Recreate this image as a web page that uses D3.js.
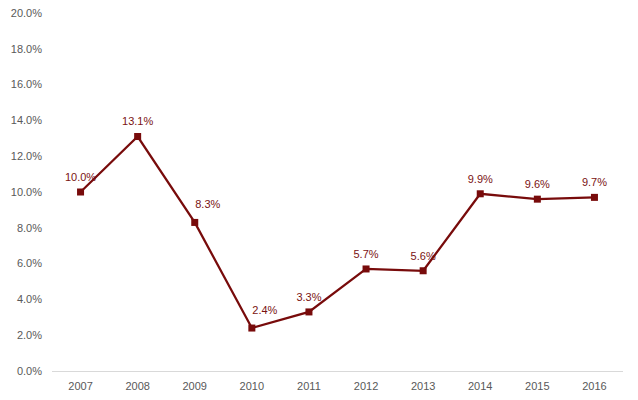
<!DOCTYPE html>
<html><head><meta charset="utf-8">
<script src="https://cdn.jsdelivr.net/npm/d3@7"></script>
<style>body{margin:0;background:#fff;} text{font-family:"Liberation Sans",Arial,sans-serif;}</style>
</head><body>
<svg id="c" width="638" height="400"></svg>
<script>
const years = ["2007","2008","2009","2010","2011","2012","2013","2014","2015","2016"];
const values = [10.0, 13.1, 8.3, 2.4, 3.3, 5.7, 5.6, 9.9, 9.6, 9.7];
const yTicks = [0,2,4,6,8,10,12,14,16,18,20];
// label placement: "above" or "right" (above-right)
const labelPos = ["above","above","right","right","above","above","above","above","above","above"];

const svg = d3.select("#c");
const x = d3.scaleBand().domain(years).range([52, 623]);
const y = d3.scaleLinear().domain([0, 20]).range([371, 13]);
const col = "#780b0b";

svg.append("g").selectAll("text").data(yTicks).join("text")
  .attr("x", 42).attr("y", d => y(d)).attr("dy", "0.35em")
  .attr("text-anchor", "end").attr("font-size", 11).attr("fill", "#595959")
  .text(d => d.toFixed(1) + "%");

svg.append("line").attr("x1", 52).attr("x2", 623).attr("y1", 371.5).attr("y2", 371.5)
  .attr("stroke", "#d9d9d9").attr("stroke-width", 1);

svg.append("g").selectAll("text").data(years).join("text")
  .attr("x", d => x(d) + x.bandwidth()/2).attr("y", 386).attr("dy", "0.35em")
  .attr("text-anchor", "middle").attr("font-size", 11).attr("fill", "#595959")
  .text(d => d);

const cx = (d, i) => x(years[i]) + x.bandwidth()/2;
const line = d3.line().x((d, i) => cx(d, i)).y(d => y(d));
svg.append("path").datum(values).attr("d", line)
  .attr("fill", "none").attr("stroke", col).attr("stroke-width", 2.25);

svg.append("g").selectAll("rect").data(values).join("rect")
  .attr("x", (d, i) => cx(d, i) - 3.5).attr("y", d => y(d) - 3.5)
  .attr("width", 7).attr("height", 7).attr("fill", col);

svg.append("g").selectAll("text").data(values).join("text")
  .attr("x", (d, i) => cx(d, i) + (labelPos[i] === "right" ? 13 : 0))
  .attr("y", (d, i) => y(d) - (labelPos[i] === "right" ? 18 : 15)).attr("dy", "0.35em")
  .attr("text-anchor", "middle").attr("font-size", 11).attr("fill", "#7a1212")
  .text(d => d.toFixed(1) + "%");
</script>
</body></html>
